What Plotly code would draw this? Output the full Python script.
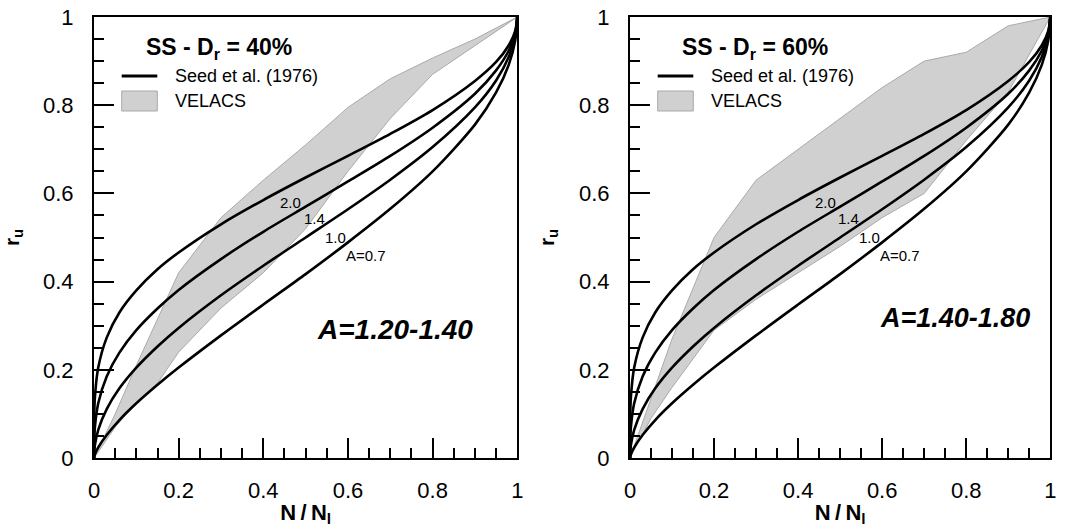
import plotly.graph_objects as go

# ---------------- data ----------------
seed_x = [0, 0.0003, 0.002, 0.01, 0.03, 0.06, 0.1, 0.15, 0.2, 0.3, 0.4, 0.5,
          0.6, 0.7, 0.8, 0.9, 0.95, 0.98, 0.995, 1]
seed_A07 = [0, 0.002, 0.008, 0.024, 0.052, 0.086, 0.124, 0.166, 0.205, 0.278, 0.348,
            0.417, 0.489, 0.565, 0.650, 0.756, 0.829, 0.892, 0.946, 1]
seed_A10 = [0, 0.011, 0.029, 0.064, 0.111, 0.158, 0.205, 0.253, 0.295, 0.369, 0.436,
            0.500, 0.564, 0.631, 0.705, 0.795, 0.856, 0.910, 0.955, 1]
seed_A14 = [0, 0.035, 0.069, 0.124, 0.185, 0.239, 0.290, 0.339, 0.381, 0.451, 0.513,
            0.570, 0.627, 0.685, 0.749, 0.826, 0.879, 0.924, 0.962, 1]
seed_A20 = [0, 0.084, 0.136, 0.205, 0.273, 0.330, 0.380, 0.428, 0.466, 0.530, 0.585,
            0.636, 0.685, 0.735, 0.789, 0.855, 0.898, 0.936, 0.968, 1]
seed_curves = [seed_A07, seed_A10, seed_A14, seed_A20]

curve_labels = ["A=0.7", "1.0", "1.4", "2.0"]
label_x = [0.642, 0.570, 0.521, 0.465]
label_y = [0.460, 0.500, 0.542, 0.580]

# VELACS band, Dr = 40 %
v40_up_x = [0, 0.05, 0.1, 0.2, 0.3, 0.4, 0.5, 0.6, 0.7, 0.8, 0.9, 1.0]
v40_up_y = [0, 0.10, 0.21, 0.42, 0.545, 0.63, 0.71, 0.795, 0.86, 0.907, 0.95, 1.0]
v40_lo_x = [0, 0.05, 0.1, 0.15, 0.2, 0.3, 0.4, 0.5, 0.6, 0.7, 0.8, 0.9, 1.0]
v40_lo_y = [0, 0.07, 0.125, 0.17, 0.24, 0.34, 0.42, 0.52, 0.65, 0.77, 0.87, 0.935, 1.0]

# VELACS band, Dr = 60 %
v60_up_x = [0, 0.1, 0.2, 0.3, 0.4, 0.5, 0.6, 0.7, 0.8, 0.9, 1.0]
v60_up_y = [0, 0.27, 0.50, 0.63, 0.70, 0.77, 0.84, 0.90, 0.92, 0.98, 1.0]
v60_lo_x = [0, 0.05, 0.1, 0.2, 0.3, 0.4, 0.5, 0.6, 0.7, 0.8, 0.9, 1.0]
v60_lo_y = [0, 0.09, 0.16, 0.29, 0.36, 0.42, 0.48, 0.545, 0.60, 0.72, 0.83, 1.0]

panel_titles = ["<b>SS - D<sub>r</sub> = 40%</b>", "<b>SS - D<sub>r</sub> = 60%</b>"]
panel_notes = ["<b><i>A=1.20-1.40</i></b>", "<b><i>A=1.40-1.80</i></b>"]
note_pos = [(0.710, 0.292), (0.774, 0.317)]
legend_names = ["Seed et al. (1976)", "VELACS"]
tick_vals = [0, 0.2, 0.4, 0.6, 0.8, 1]
tick_text = ["0", "0.2", "0.4", "0.6", "0.8", "1"]

FONT = "Liberation Sans, Arial, sans-serif"
W, H = 1082, 530
ML, MR, MT, MB = 0, 0, 17, 72
PLOT_H = H - MT - MB


def px_x(px):
    return px / W


def px_y(py):
    return (H - MB - py) / PLOT_H


fig = go.Figure()

bands = [(v40_up_x, v40_up_y, v40_lo_x, v40_lo_y), (v60_up_x, v60_up_y, v60_lo_x, v60_lo_y)]
for p, (ux, uy, lx, ly) in enumerate(bands):
    xa = "x" if p == 0 else "x2"
    ya = "y" if p == 0 else "y2"
    fig.add_trace(go.Scatter(
        x=ux + lx[::-1], y=uy + ly[::-1], fill="toself", mode="lines",
        fillcolor="#d0d0d0", line=dict(color="#a9a9a9", width=1),
        name=legend_names[1], xaxis=xa, yaxis=ya,
        showlegend=False, hoverinfo="skip"))
    for i, yv in enumerate(seed_curves):
        fig.add_trace(go.Scatter(
            x=seed_x, y=yv, mode="lines",
            line=dict(color="black", width=2.6, shape="spline", smoothing=0.8),
            name=legend_names[0], showlegend=False, xaxis=xa, yaxis=ya))
    for t, lx_, ly_ in zip(curve_labels, label_x, label_y):
        fig.add_annotation(x=lx_, y=ly_, xref=xa, yref=ya, text=t, showarrow=False,
                           font=dict(size=15, color="black", family=FONT))
    fig.add_annotation(x=0.119, y=0.929, xref=xa, yref=ya, text=panel_titles[p],
                       showarrow=False, xanchor="left",
                       font=dict(size=23, color="black", family=FONT))
    fig.add_annotation(x=note_pos[p][0], y=note_pos[p][1], xref=xa, yref=ya,
                       text=panel_notes[p], showarrow=False,
                       font=dict(size=28 if p == 0 else 27, color="black", family=FONT))

    # legend (drawn per panel, like the original)
    off = 0 if p == 0 else 542
    fig.add_shape(type="line", xref="paper", yref="paper",
                  x0=px_x(117 + off), x1=px_x(153 + off), y0=px_y(76), y1=px_y(76),
                  line=dict(color="black", width=3.2))
    fig.add_shape(type="rect", xref="paper", yref="paper",
                  x0=px_x(117 + off), x1=px_x(153 + off), y0=px_y(111), y1=px_y(91),
                  fillcolor="#d0d0d0", line=dict(color="#a9a9a9", width=1))
    for k, (name, py) in enumerate(zip(legend_names, [76, 101])):
        fig.add_annotation(x=px_x(169 + off), y=px_y(py), xref="paper", yref="paper",
                           text=name, showarrow=False, xanchor="left", yanchor="middle",
                           font=dict(size=18, color="black", family=FONT))


def xaxis_cfg(dom):
    return dict(domain=dom, range=[0, 1], tickvals=tick_vals, ticktext=tick_text,
                ticks="inside", ticklen=20, tickwidth=1.6, tickcolor="black",
                minor=dict(dtick=0.05, tick0=0, ticks="inside", ticklen=10,
                           tickwidth=1.6, tickcolor="black"),
                showline=True, linecolor="black", linewidth=2, mirror=True,
                showgrid=False, zeroline=False, ticklabelstandoff=12,
                tickfont=dict(size=22, color="black", family=FONT),
                title=dict(text="<b>N\u2009/\u2009N<sub>l</sub></b>", standoff=2,
                           font=dict(size=22, color="black", family=FONT)))


def yaxis_cfg(anchor):
    return dict(domain=[0, 1], range=[0, 1], anchor=anchor,
                tickvals=tick_vals, ticktext=tick_text,
                ticks="inside", ticklen=20, tickwidth=1.6, tickcolor="black",
                minor=dict(dtick=0.05, tick0=0, ticks="inside", ticklen=10,
                           tickwidth=1.6, tickcolor="black"),
                showline=True, linecolor="black", linewidth=2, mirror=True,
                showgrid=False, zeroline=False, ticklabelstandoff=14,
                tickfont=dict(size=22, color="black", family=FONT),
                title=dict(text="<b>r<sub>u</sub></b>", standoff=19,
                           font=dict(size=21, color="black", family=FONT)))


xd1 = [89 / W, 517 / W]
xd2 = [631 / W, 1056 / W]

fig.update_layout(
    width=W, height=H, margin=dict(l=ML, r=MR, t=MT, b=MB),
    paper_bgcolor="white", plot_bgcolor="white",
    font=dict(family=FONT, color="black"),
    showlegend=False,
    xaxis=dict(**xaxis_cfg(xd1), anchor="y"),
    yaxis=yaxis_cfg("x"),
    xaxis2=dict(**xaxis_cfg(xd2), anchor="y2"),
    yaxis2=yaxis_cfg("x2"),
)

fig.write_html("out.html")
